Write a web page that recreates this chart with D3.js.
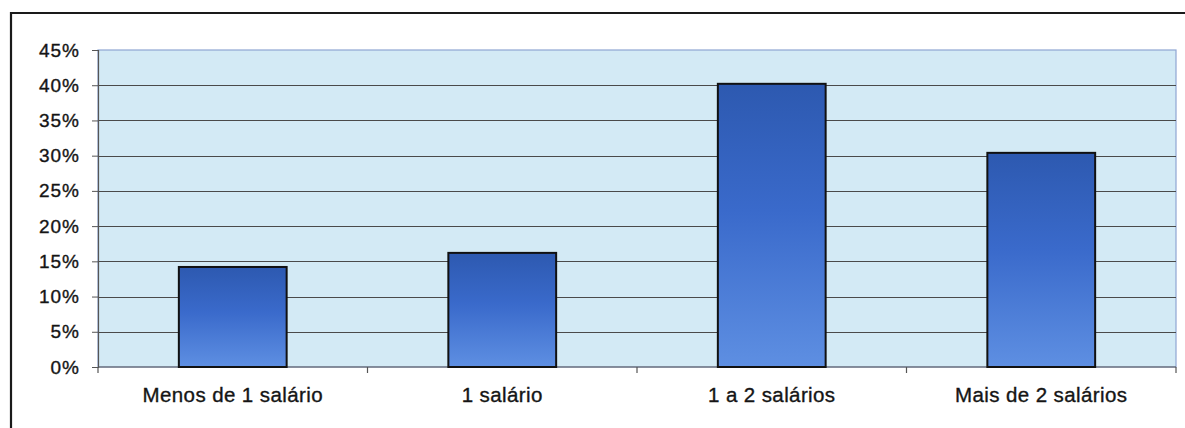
<!DOCTYPE html>
<html>
<head>
<meta charset="utf-8">
<script src="https://cdn.jsdelivr.net/npm/d3@7"></script>
<style>
  html, body { margin: 0; padding: 0; background: #fff; }
  svg { display: block; }
</style>
</head>
<body>
<svg id="chart" width="1185" height="428"></svg>
<script>
// Income bracket shares
const categories = ["Menos de 1 salário", "1 salário", "1 a 2 salários", "Mais de 2 salários"];
const shares = [14.2, 16.2, 40.2, 30.4];
const yTicks = [0, 5, 10, 15, 20, 25, 30, 35, 40, 45];

const W = 1185, H = 428;
const margin = { left: 98, right: 9, top: 50, bottom: 61 };
const plotW = W - margin.left - margin.right;
const plotH = H - margin.top - margin.bottom;
const FONT = "Liberation Sans, Arial, sans-serif";

const svg = d3.select("#chart");
const defs = svg.append("defs");

const grad = defs.append("linearGradient")
  .attr("id", "barFill").attr("x1", 0).attr("y1", 0).attr("x2", 0).attr("y2", 1);
grad.append("stop").attr("offset", "0%").attr("stop-color", "#2d59b0");
grad.append("stop").attr("offset", "45%").attr("stop-color", "#3a6acb");
grad.append("stop").attr("offset", "100%").attr("stop-color", "#5e8fe2");

// Outer chart frame
svg.append("path")
  .attr("d", `M11,${H + 5} V13 H${W + 5}`)
  .attr("fill", "none").attr("stroke", "#1a1a1a").attr("stroke-width", 2.2);

const g = svg.append("g").attr("transform", `translate(${margin.left},${margin.top})`);

const x = d3.scaleBand().domain(categories).range([0, plotW]).paddingInner(0.6).paddingOuter(0.3);
const xOuter = d3.scaleBand().domain(categories).range([0, plotW]);
const y = d3.scaleLinear().domain([0, 45]).range([plotH, 0]);

// Plot background
g.append("rect")
  .attr("x", 0).attr("y", 0).attr("width", plotW).attr("height", plotH)
  .attr("fill", "#d3eaf5").attr("stroke", "#8fa6d2").attr("stroke-width", 1.2);

// Horizontal gridlines
g.append("g").selectAll("line").data(yTicks.filter(t => t > 0 && t < 45)).join("line")
  .attr("x1", 0).attr("x2", plotW)
  .attr("y1", d => Math.round(y(d)) + 0.5).attr("y2", d => Math.round(y(d)) + 0.5)
  .attr("stroke", "#4a4a4a").attr("stroke-width", 1.1);

// Y axis
const yAxis = d3.axisLeft(y).tickValues(yTicks).tickFormat(d => d + "%").tickSize(6).tickPadding(12);
const ya = g.append("g").call(yAxis);
ya.attr("font-size", null).attr("font-family", null);
ya.select(".domain").attr("stroke", "#555").attr("stroke-width", 1.2);
ya.selectAll(".tick line").attr("stroke", "#555");
ya.selectAll("text")
  .style("font-family", FONT).style("font-size", "19px").style("letter-spacing", "1px")
  .attr("fill", "#151515").attr("stroke", "#151515").attr("stroke-width", 0.35);

// X axis with tick marks on category boundaries
const xa = g.append("g").attr("transform", `translate(0,${plotH})`);
xa.append("line").attr("x1", 0).attr("x2", plotW).attr("y1", 0).attr("y2", 0)
  .attr("stroke", "#555").attr("stroke-width", 1.2);
const bounds = categories.map(c => xOuter(c)).concat([plotW]);
xa.selectAll("line.tk").data(bounds).join("line").attr("class", "tk")
  .attr("x1", d => d).attr("x2", d => d).attr("y1", 0).attr("y2", 6)
  .attr("stroke", "#555").attr("stroke-width", 1.2);
xa.selectAll("text").data(categories).join("text")
  .attr("x", d => xOuter(d) + xOuter.bandwidth() / 2)
  .attr("y", 35)
  .attr("text-anchor", "middle")
  .style("font-family", FONT).style("font-size", "20.5px").style("letter-spacing", "0.4px")
  .attr("fill", "#151515").attr("stroke", "#151515").attr("stroke-width", 0.35)
  .text(d => d);

// Bars
g.append("g").selectAll("rect").data(categories).join("rect")
  .attr("x", d => xOuter(d) + (xOuter.bandwidth() - x.bandwidth()) / 2)
  .attr("y", (d, i) => y(shares[i]))
  .attr("width", x.bandwidth())
  .attr("height", (d, i) => plotH - y(shares[i]))
  .attr("fill", "url(#barFill)")
  .attr("stroke", "#111").attr("stroke-width", 2);
</script>
</body>
</html>
